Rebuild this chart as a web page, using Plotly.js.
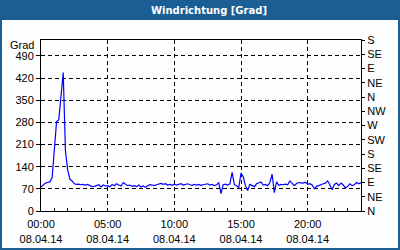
<!DOCTYPE html>
<html>
<head>
<meta charset="utf-8">
<script src="https://cdn.plot.ly/plotly-3.0.1.min.js"></script>
<style>
  html, body { margin: 0; padding: 0; background: #fdfefd; }
  #chart { width: 400px; height: 250px; }
</style>
</head>
<body>
<div id="chart"></div>
<script>
// Wind direction in degrees, 10-minute samples from 00:00 to 24:00 on 08.04.14
const direction = [
  76, 83, 88, 90, 92, 105, 195, 282, 288, 365,
  437, 190, 130, 100, 95, 86, 84, 85, 83, 84,
  82, 84, 80, 77, 78, 80, 83, 76, 82, 79,
  80, 76, 84, 80, 86, 82, 79, 90, 84, 80,
  82, 78, 80, 77, 82, 76, 79, 75, 80, 83,
  82, 80, 83, 86, 87, 84, 86, 82, 84, 81,
  85, 82, 83, 86, 82, 84, 86, 83, 81, 84,
  82, 84, 81, 83, 84, 86, 82, 84, 80, 83,
  89, 55, 83, 85, 82, 86, 122, 84, 80, 74,
  120, 108, 80, 65, 84, 80, 77, 86, 90, 92,
  82, 84, 80, 90, 116, 58, 92, 81, 84, 83,
  85, 83, 95, 86, 80, 87, 90, 89, 88, 91,
  84, 86, 82, 70, 78, 80, 84, 86, 88, 95,
  82, 67, 84, 88, 80, 88, 82, 73, 78, 86,
  80, 83, 90, 86, 90
];
// sample times in hours (10-minute step)
const hours = direction.map((_, i) => i / 6);

const xTickVals = [0, 5, 10, 15, 20];
const xTickText = ['00:00<br>08.04.14', '05:00<br>08.04.14', '10:00<br>08.04.14', '15:00<br>08.04.14', '20:00<br>08.04.14'];
const yTickVals = [0, 70, 140, 210, 280, 350, 420, 490];
const compassVals = [0, 45, 90, 135, 180, 225, 270, 315, 360, 405, 450, 495, 540];
const compassText = ['N', 'NE', 'E', 'SE', 'S', 'SW', 'W', 'NW', 'N', 'NE', 'E', 'SE', 'S'];

const L = 41, R = 39, T = 40, B = 39, W = 400, H = 250;
const pw = W - L - R, ph = H - T - B;
const px = v => (v - L) / pw;
const py = v => (H - B - v) / ph;

const font = { family: 'Liberation Sans, Arial, sans-serif', size: 11, color: '#000' };
const frameBlue = '#1b5e93';

const traces = [
  {
    x: hours, y: direction, type: 'scatter', mode: 'lines',
    line: { color: '#0000ff', width: 1.2 },
    hoverinfo: 'skip', showlegend: false
  },
  {
    x: [null], y: [null], type: 'scatter', mode: 'lines', yaxis: 'y2',
    hoverinfo: 'skip', showlegend: false
  }
];

function band(x0, x1, y0, y1) {
  return {
    type: 'rect', xref: 'paper', yref: 'paper', layer: 'below',
    x0: px(x0), x1: px(x1), y0: py(y1), y1: py(y0),
    fillcolor: frameBlue, line: { width: 0 }
  };
}

const layout = {
  width: W, height: H,
  margin: { l: L, r: R, t: T, b: B, pad: 0 },
  paper_bgcolor: '#fdfefd',
  plot_bgcolor: '#fdfefd',
  font: font,
  showlegend: false,
  title: {
    text: 'Windrichtung [Grad]',
    font: { family: 'DejaVu Sans, sans-serif', size: 10, color: '#ffffff', weight: 'bold' },
    xref: 'container', yref: 'container', x: 0.5225, y: 0.96, xanchor: 'center', yanchor: 'middle'
  },
  xaxis: {
    range: [0, 24], fixedrange: true,
    tickvals: xTickVals, ticktext: xTickText,
    ticks: 'inside', ticklen: 3, tickcolor: '#000', tickwidth: 1,
    ticklabelstandoff: 3,
    showline: true, linecolor: '#000', linewidth: 1, mirror: true,
    showgrid: true, gridcolor: '#000', gridwidth: 1, griddash: '4px,3px',
    zeroline: false, tickfont: font,
    minor: { dtick: 1, tick0: 0, ticks: 'inside', ticklen: 3, tickcolor: '#000', showgrid: false }
  },
  yaxis: {
    range: [0, 540], fixedrange: true,
    tickvals: yTickVals, ticks: 'outside', ticklen: 4, tickcolor: '#000',
    showline: true, linecolor: '#000', linewidth: 1,
    showgrid: true, gridcolor: '#000', gridwidth: 1, griddash: '4px,3px',
    zeroline: false, tickfont: font
  },
  yaxis2: {
    range: [0, 540], fixedrange: true, overlaying: 'y', side: 'right',
    tickvals: compassVals, ticktext: compassText,
    ticks: 'outside', ticklen: 3, tickcolor: '#000',
    showline: true, linecolor: '#000', linewidth: 1,
    showgrid: false, zeroline: false, tickfont: font
  },
  shapes: [
    band(0, 400, 0, 20),
    band(0, 2, 0, 250),
    band(398, 400, 0, 250),
    band(0, 400, 248, 250)
  ],
  annotations: [
    {
      text: 'Grad', xref: 'paper', yref: 'paper',
      x: px(36), y: py(45), xanchor: 'right', yanchor: 'middle',
      showarrow: false, font: font
    }
  ]
};

Plotly.newPlot('chart', traces, layout, { staticPlot: true, displayModeBar: false });
</script>
</body>
</html>
